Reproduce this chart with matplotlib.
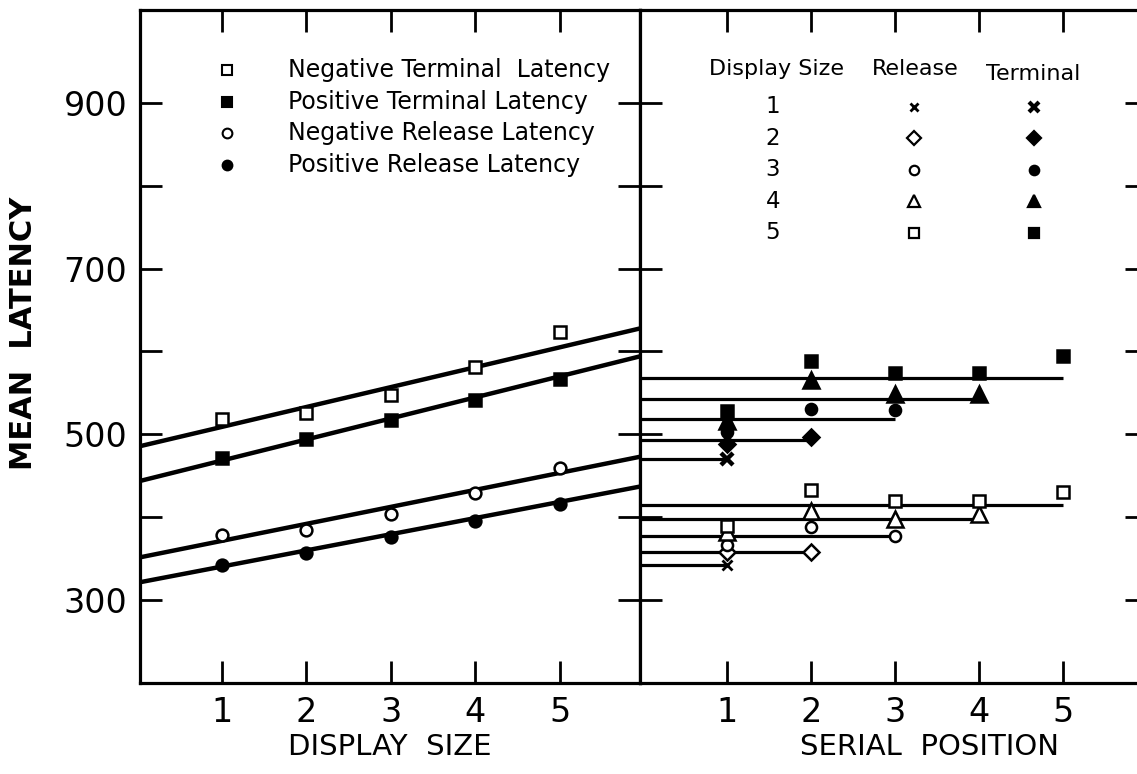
import matplotlib.pyplot as plt
import numpy as np

plt.rcParams['font.family'] = 'DejaVu Sans'

# left panel: mean latency by display size
display_size = [1, 2, 3, 4, 5]
neg_terminal = [518, 526, 547, 581, 624]
pos_terminal = [472, 494, 517, 541, 567]
neg_release = [378, 384, 404, 429, 460]
pos_release = [342, 357, 376, 396, 416]

# fitted lines (value at x=0 and slope)
fit_intercepts = [485, 443, 351, 321]
fit_slopes = [24.0, 25.4, 20.5, 19.5]

left_labels = ['Negative Terminal  Latency', 'Positive Terminal Latency',
               'Negative Release Latency', 'Positive Release Latency']

# right panel: latency at each serial position, one list per display size
terminal_by_position = [
    [470],
    [488, 497],
    [503, 530, 529],
    [516, 565, 549, 549],
    [528, 588, 574, 574, 594],
]
release_by_position = [
    [342],
    [358, 358],
    [366, 388, 377],
    [382, 408, 398, 404],
    [390, 433, 420, 419, 431],
]
terminal_means = [470, 493, 518, 543, 568]
release_means = [342, 358, 377, 398, 415]

size_markers = ['x', 'D', 'o', '^', 's']
size_msizes = [8, 8, 8, 11, 9]

fig = plt.figure(figsize=(11.37, 7.74), dpi=100)
ax1 = fig.add_axes([140 / 1137, 1 - 683 / 774, 500 / 1137, 673 / 774])
ax2 = fig.add_axes([640 / 1137, 1 - 683 / 774, 507 / 1137, 673 / 774])

for ax in (ax1, ax2):
    ax.set_ylim(200, 1012)
    ax.set_yticks([300, 500, 700, 900])
    ax.set_yticks([400, 600, 800], minor=True)
    ax.set_xticks(display_size)
    ax.tick_params(which='both', direction='in', length=16, width=2,
                   top=True, right=True, labelsize=24, pad=9)
    for s in ax.spines.values():
        s.set_linewidth(2.3)

ax1.set_xlim(0.03, 5.95)
ax2.set_xlim(-0.04, 6.0)
ax2.tick_params(labelleft=False)

# ---- left panel
styles = [dict(marker='s', mfc='white'), dict(marker='s', mfc='black'),
          dict(marker='o', mfc='white'), dict(marker='o', mfc='black')]
series = [neg_terminal, pos_terminal, neg_release, pos_release]
xs = np.array(ax1.get_xlim())
for vals, st, b, m in zip(series, styles, fit_intercepts, fit_slopes):
    ax1.plot(xs, b + m * xs, color='black', lw=3.2, solid_capstyle='butt')
    ax1.plot(display_size, vals, ls='none', mec='black', mew=1.8,
             ms=9 if st['marker'] == 's' else 8.5, zorder=3, **st)

for i, (lab, st) in enumerate(zip(left_labels, styles)):
    y = 0.911 - i * 0.047
    ax1.plot([0.174], [y], transform=ax1.transAxes, ls='none', mec='black',
             mew=1.5, ms=7, clip_on=False, **st)
    ax1.text(0.296, y, lab, transform=ax1.transAxes, fontsize=17,
             va='center', ha='left')

# ---- right panel
for d in range(5):
    mk, ms = size_markers[d], size_msizes[d]
    pos = list(range(1, d + 2))
    for means, data, fill in ((terminal_means, terminal_by_position, 'black'),
                              (release_means, release_by_position, 'white')):
        ax2.plot([ax2.get_xlim()[0], d + 1], [means[d], means[d]],
                 color='black', lw=2.3, solid_capstyle='butt')
        if mk == 'x':
            ax2.plot(pos, data[d], ls='none', marker='x', color='black',
                     ms=7 if fill == 'white' else 9,
                     mew=2 if fill == 'white' else 3.2, zorder=3)
        else:
            ax2.plot(pos, data[d], ls='none', marker=mk, ms=ms, mfc=fill,
                     mec='black', mew=1.8, zorder=3)

ax2.text(0.27, 0.912, 'Display Size', transform=ax2.transAxes, fontsize=16,
         ha='center', va='center')
ax2.text(0.542, 0.912, 'Release', transform=ax2.transAxes, fontsize=16,
         ha='center', va='center')
ax2.text(0.775, 0.905, 'Terminal', transform=ax2.transAxes, fontsize=16,
         ha='center', va='center')
for d in range(5):
    y = 0.856 - d * 0.0468
    ax2.text(0.262, y, str(d + 1), transform=ax2.transAxes, fontsize=16.5,
             ha='center', va='center')
    mk = size_markers[d]
    if mk == 'x':
        ax2.plot([0.54], [y], transform=ax2.transAxes, marker='x', color='black',
                 ms=6, mew=2, ls='none')
        ax2.plot([0.777], [y], transform=ax2.transAxes, marker='x', color='black',
                 ms=7, mew=3, ls='none')
    else:
        ms = size_msizes[d] * 0.85
        ax2.plot([0.54], [y], transform=ax2.transAxes, marker=mk, ms=ms,
                 mfc='white', mec='black', mew=1.6, ls='none')
        ax2.plot([0.777], [y], transform=ax2.transAxes, marker=mk, ms=ms,
                 mfc='black', mec='black', mew=1.6, ls='none')

ax1.set_ylabel('MEAN  LATENCY', fontsize=22, fontweight='bold')
ax1.yaxis.set_label_coords(-0.205, 0.52)
ax1.set_xlabel('DISPLAY  SIZE', fontsize=21)
ax2.set_xlabel('SERIAL  POSITION', fontsize=21)
ax2.xaxis.set_label_coords(0.571, -0.075)
ax1.xaxis.set_label_coords(0.5, -0.075)

fig.savefig('out.png', dpi=100)
